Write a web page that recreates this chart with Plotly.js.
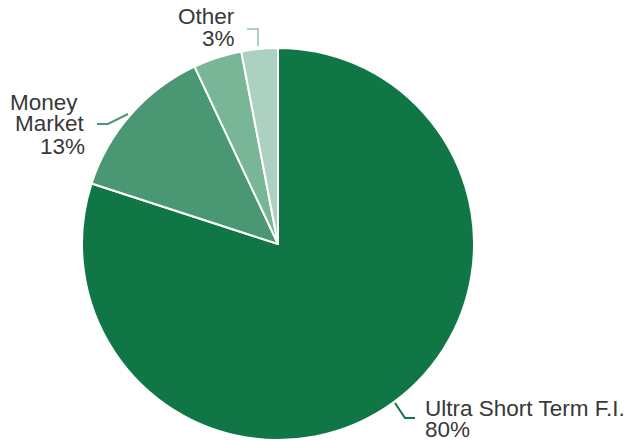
<!DOCTYPE html>
<html>
<head>
<meta charset="utf-8">
<script src="https://cdn.plot.ly/plotly-3.0.1.min.js"></script>
<style>html,body{margin:0;padding:0;background:#fff}#chart{width:628px;height:440px}</style>
</head>
<body>
<div id="chart"></div>
<script>
var categories = ["Ultra Short Term F.I.", "Money Market", "Other Short Term", "Other"];
var values = [80, 13, 4, 3];
var valueLabels = ["80%", "13%", "", "3%"];
var colors = ["#107646", "#4a9773", "#79b597", "#acd1c0"];

var W = 628, H = 440;
function px(x){ return x / W; }
function py(y){ return 1 - y / H; }

var trace = {
  type: "pie",
  labels: categories,
  values: values,
  sort: false,
  direction: "clockwise",
  rotation: 0,
  textinfo: "none",
  hoverinfo: "label+percent",
  marker: {colors: colors, line: {color: "#ffffff", width: 2}},
  domain: {x: [px(82), px(474)], y: [py(440), py(48)]}
};

var font = {family: "Liberation Sans, Arial, sans-serif", size: 22.5, color: "#383838"};
function ann(text, x, baseline, anchor){
  return {text: text, xref: "paper", yref: "paper", x: px(x), y: py(baseline - 7),
    xanchor: anchor, yanchor: "middle", showarrow: false, font: font, borderpad: 0};
}
var annotations = [
  ann("Other", 236, 23, "right"),
  ann(valueLabels[3], 236, 45, "right"),
  ann("Money", 79, 109, "right"),
  ann("Market", 86, 131, "right"),
  ann(valueLabels[1], 86, 153, "right"),
  ann("Ultra Short Term F.I.", 424, 415, "left"),
  ann(valueLabels[0], 424, 436, "left")
];

function path(pts, color){
  var d = pts.map(function(p, i){ return (i ? "L" : "M") + px(p[0]) + "," + py(p[1]); }).join(" ");
  return {type: "path", xref: "paper", yref: "paper", path: d, line: {color: color, width: 2}};
}
var shapes = [
  path([[247, 29], [258, 29], [258, 46]], colors[3]),
  path([[97, 124], [108, 124], [128, 114]], colors[1]),
  path([[395, 403], [405, 418], [415, 418]], colors[0])
];

var layout = {
  width: W, height: H,
  margin: {l: 0, r: 0, t: 0, b: 0},
  showlegend: false,
  paper_bgcolor: "#ffffff",
  annotations: annotations,
  shapes: shapes
};

Plotly.newPlot("chart", [trace], layout, {displayModeBar: false, staticPlot: true});
</script>
</body>
</html>
